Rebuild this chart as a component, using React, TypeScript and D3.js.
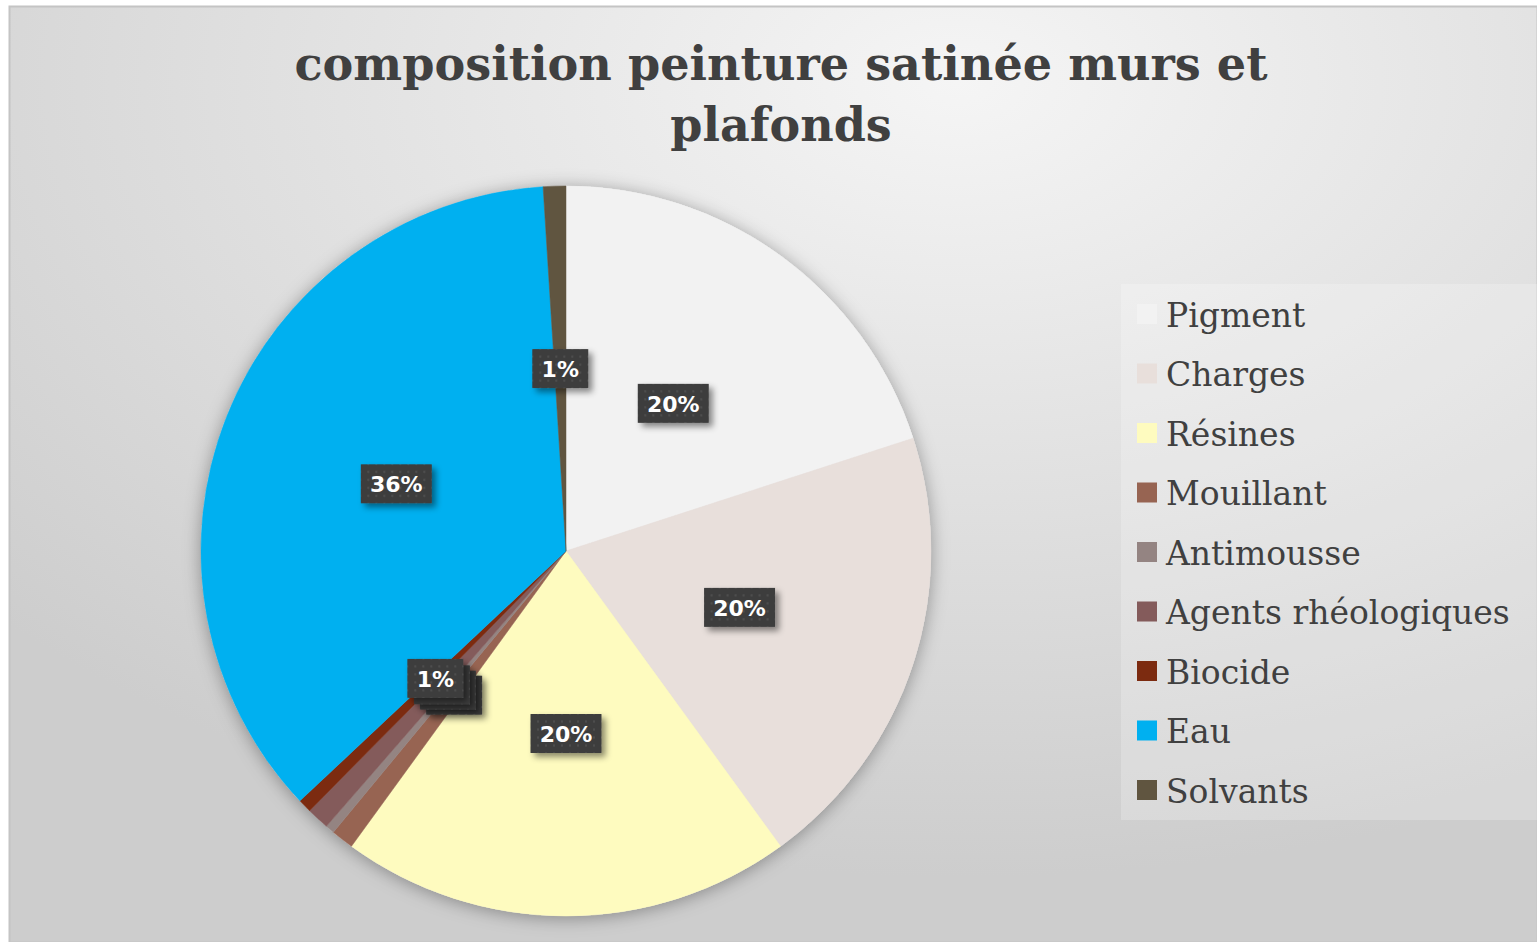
import React, { useEffect, useRef } from "react";
import * as d3 from "d3";

const categories = [
  "Pigment",
  "Charges",
  "Résines",
  "Mouillant",
  "Antimousse",
  "Agents rhéologiques",
  "Biocide",
  "Eau",
  "Solvants",
];
const values = [20, 20, 20, 1, 0.4, 1, 0.6, 36, 1];
const colors = [
  "#f2f2f2",
  "#e8dfdb",
  "#fefbbf",
  "#976452",
  "#948482",
  "#845b5b",
  "#7c2b10",
  "#00b0f0",
  "#605540",
];
const titleLines = ["composition peinture satinée murs et", "plafonds"];

const W = 1537;
const H = 942;

const App: React.FC = () => {
  const svgRef = useRef<SVGSVGElement | null>(null);

  useEffect(() => {
    if (!svgRef.current) return;
    const svg = d3.select(svgRef.current);
    svg.selectAll("*").remove();

    const defs = svg.append("defs");

    // chart background gradient
    const bg = defs
      .append("radialGradient")
      .attr("id", "bg")
      .attr("cx", "62%")
      .attr("cy", "8%")
      .attr("r", "85%");
    bg.append("stop").attr("offset", "0%").attr("stop-color", "#f5f5f5");
    bg.append("stop").attr("offset", "100%").attr("stop-color", "#cdcdcd");

    // soft glow around the pie
    const glow = defs
      .append("filter")
      .attr("id", "glow")
      .attr("x", "-20%")
      .attr("y", "-20%")
      .attr("width", "140%")
      .attr("height", "140%");
    glow
      .append("feDropShadow")
      .attr("dx", 0)
      .attr("dy", 2)
      .attr("stdDeviation", 9)
      .attr("flood-color", "#000")
      .attr("flood-opacity", 0.35);

    // shadow for the label boxes
    const boxShadow = defs
      .append("filter")
      .attr("id", "boxShadow")
      .attr("x", "-30%")
      .attr("y", "-30%")
      .attr("width", "170%")
      .attr("height", "180%");
    boxShadow
      .append("feDropShadow")
      .attr("dx", 4)
      .attr("dy", 4)
      .attr("stdDeviation", 3)
      .attr("flood-color", "#000")
      .attr("flood-opacity", 0.45);

    // dotted texture in the label boxes
    const dots = defs
      .append("pattern")
      .attr("id", "dots")
      .attr("width", 8)
      .attr("height", 8)
      .attr("patternUnits", "userSpaceOnUse");
    dots.append("rect").attr("width", 8).attr("height", 8).attr("fill", "#3d3d3d");
    dots.append("circle").attr("cx", 4).attr("cy", 4).attr("r", 1.2).attr("fill", "#4e4e4e");

    // chart area
    svg
      .append("rect")
      .attr("x", 9.5)
      .attr("y", 6.5)
      .attr("width", W - 9)
      .attr("height", H - 6)
      .attr("fill", "url(#bg)")
      .attr("stroke", "#c4c4c4")
      .attr("stroke-width", 2);

    // title
    const title = svg
      .append("text")
      .attr("text-anchor", "middle")
      .attr("font-family", "'DejaVu Serif', serif")
      .attr("font-weight", "bold")
      .attr("font-size", 46)
      .attr("fill", "#404040");
    title
      .append("tspan")
      .attr("x", 781)
      .attr("y", 80)
      .attr("textLength", 973)
      .attr("lengthAdjust", "spacingAndGlyphs")
      .text(titleLines[0]);
    title.append("tspan").attr("x", 781).attr("y", 141).text(titleLines[1]);

    // pie
    const cx = 566;
    const cy = 551;
    const r = 365;
    const data = categories.map((c, i) => ({ name: c, value: values[i], color: colors[i] }));
    const total = d3.sum(values);

    const pie = d3
      .pie<{ name: string; value: number; color: string }>()
      .sort(null)
      .value((d) => d.value);
    const arcs = pie(data);
    const arc = d3
      .arc<d3.PieArcDatum<{ name: string; value: number; color: string }>>()
      .innerRadius(0)
      .outerRadius(r);
    const labelArc = d3
      .arc<d3.PieArcDatum<{ name: string; value: number; color: string }>>()
      .innerRadius(r * 0.5)
      .outerRadius(r * 0.5);

    const g = svg.append("g").attr("transform", `translate(${cx},${cy})`);
    g.append("circle").attr("r", r).attr("fill", "#ddd").attr("filter", "url(#glow)");
    g.selectAll("path.slice")
      .data(arcs)
      .join("path")
      .attr("class", "slice")
      .attr("d", arc)
      .attr("fill", (d) => d.data.color)
      .attr("stroke", (d) => d.data.color)
      .attr("stroke-width", 0.5);

    // data labels (rounded like Excel, half up)
    const pct = (v: number) => `${Math.round((v / total) * 100 + 1e-9)}%`;
    const labels = g
      .selectAll("g.lbl")
      .data(arcs)
      .join("g")
      .attr("class", "lbl")
      .attr("transform", (d) => {
        const [x, y] = labelArc.centroid(d);
        return `translate(${x},${y})`;
      });
    labels.each(function (d) {
      const t = pct(d.data.value);
      const bw = 26 + 15 * t.length;
      const bh = 39;
      const sel = d3.select(this);
      sel
        .append("rect")
        .attr("x", -bw / 2)
        .attr("y", -bh / 2)
        .attr("width", bw)
        .attr("height", bh)
        .attr("fill", "url(#dots)")
        .attr("filter", "url(#boxShadow)");
      sel
        .append("text")
        .attr("text-anchor", "middle")
        .attr("dominant-baseline", "central")
        .attr("y", 1)
        .attr("font-family", "'DejaVu Sans', sans-serif")
        .attr("font-weight", "bold")
        .attr("font-size", 22)
        .attr("fill", "#ffffff")
        .text(t);
    });

    // legend
    const legend = svg.append("g");
    legend
      .append("rect")
      .attr("x", 1121)
      .attr("y", 284)
      .attr("width", 416)
      .attr("height", 536)
      .attr("fill", "#ffffff")
      .attr("opacity", 0.22);
    const rowY = d3
      .scalePoint<string>()
      .domain(categories)
      .range([314, 790]);
    const rows = legend
      .selectAll("g.row")
      .data(data)
      .join("g")
      .attr("class", "row")
      .attr("transform", (d) => `translate(1137,${rowY(d.name)})`);
    rows
      .append("rect")
      .attr("x", 0)
      .attr("y", -10)
      .attr("width", 20)
      .attr("height", 20)
      .attr("fill", (d) => d.color);
    rows
      .append("text")
      .attr("x", 29)
      .attr("y", 1)
      .attr("dominant-baseline", "central")
      .attr("font-family", "'DejaVu Serif', serif")
      .attr("font-size", 33)
      .attr("fill", "#404040")
      .text((d) => d.name);
  }, []);

  return (
    <svg
      ref={svgRef}
      width={W}
      height={H}
      style={{ position: "absolute", left: 0, top: 0 }}
    ></svg>
  );
};

export default App;
